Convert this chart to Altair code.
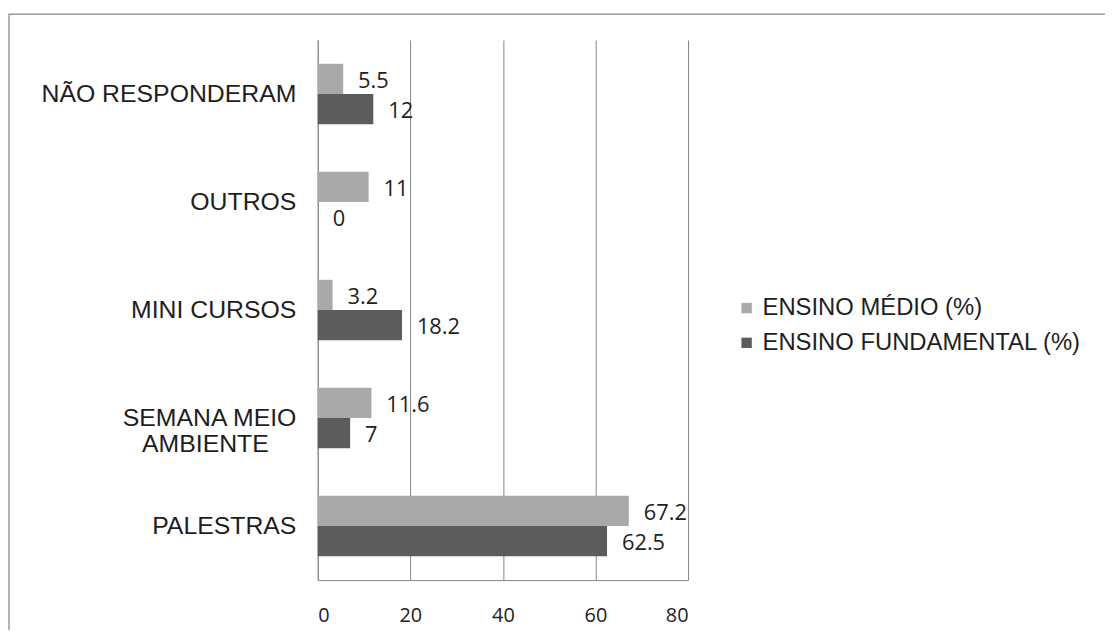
import altair as alt
import pandas as pd

PAD = "\u2007" * 2 + "\u2060"
categories = ["NÃO RESPONDERAM", "OUTROS", "MINI CURSOS", "SEMANA MEIO|AMBIENTE" + PAD, "PALESTRAS"]
series = ["ENSINO MÉDIO (%)", "ENSINO FUNDAMENTAL (%)"]
medio = [5.5, 11, 3.2, 11.6, 67.2]
fundamental = [12, 0, 18.2, 7, 62.5]
x_ticks = [0, 20, 40, 60, 80]
colors = ["#a9a9a9", "#5c5c5c"]

rows = []
for c, m, f in zip(categories, medio, fundamental):
    rows.append({"cat": c, "serie": series[0], "valor": m})
    rows.append({"cat": c, "serie": series[1], "valor": f})
df = pd.DataFrame(rows)

W, H = 373, 544

y_enc = alt.Y("cat:N", sort=categories,
              scale=alt.Scale(paddingInner=0.44, paddingOuter=0.22),
              axis=alt.Axis(title=None, labelExpr="split(datum.label, '|')",
                            labelFont="Liberation Sans", labelFontSize=25,
                            labelColor="#1e1e1e", labelPadding=22, ticks=False,
                            labelLineHeight=26, domainColor="#868686",
                            labelLimit=400))
yoff = alt.YOffset("serie:N", sort=series)

x_enc = alt.X("valor:Q", scale=alt.Scale(domain=[0, 80], nice=False),
              axis=alt.Axis(title=None, values=x_ticks, ticks=False, grid=True,
                            gridColor="#868686", domainColor="#868686",
                            labelFont="Open Sans", labelFontSize=20,
                            labelColor="#222222", labelPadding=26))

bars = alt.Chart(df).mark_bar().encode(
    y=y_enc, yOffset=yoff, x=x_enc,
    color=alt.Color("serie:N", sort=series,
                    scale=alt.Scale(domain=series, range=colors),
                    legend=alt.Legend(title=None, orient="none", legendX=420, legendY=258,
                                      symbolType="square", symbolSize=110,
                                      symbolStrokeWidth=0, labelFont="Liberation Sans",
                                      labelFontSize=24, labelColor="#1e1e1e",
                                      rowPadding=11, labelOffset=4, labelLimit=500)),
)

labels = alt.Chart(df).mark_text(align="left", baseline="middle", dx=15, dy=2,
                                 font="Open Sans", fontSize=22, color="#222222").encode(
    y=alt.Y("cat:N", sort=categories), yOffset=yoff, x="valor:Q",
    text=alt.Text("valor:Q"),
)

border = alt.Chart(pd.DataFrame({"k": [1]})).mark_rect(
    filled=False, stroke="#9a9a9a", strokeWidth=1.5, clip=False).encode(
    x=alt.value(-311), x2=alt.value(810), y=alt.value(-26), y2=alt.value(620),
)

chart = alt.layer(border, bars, labels).properties(
    width=W, height=H,
    autosize=alt.AutoSizeParams(type="none"),
    padding={"left": 312, "top": 30, "right": 420, "bottom": 48},
    background="white",
).configure_view(stroke=None)

chart.save("out.html", embed_options={"renderer": "svg", "actions": False})
